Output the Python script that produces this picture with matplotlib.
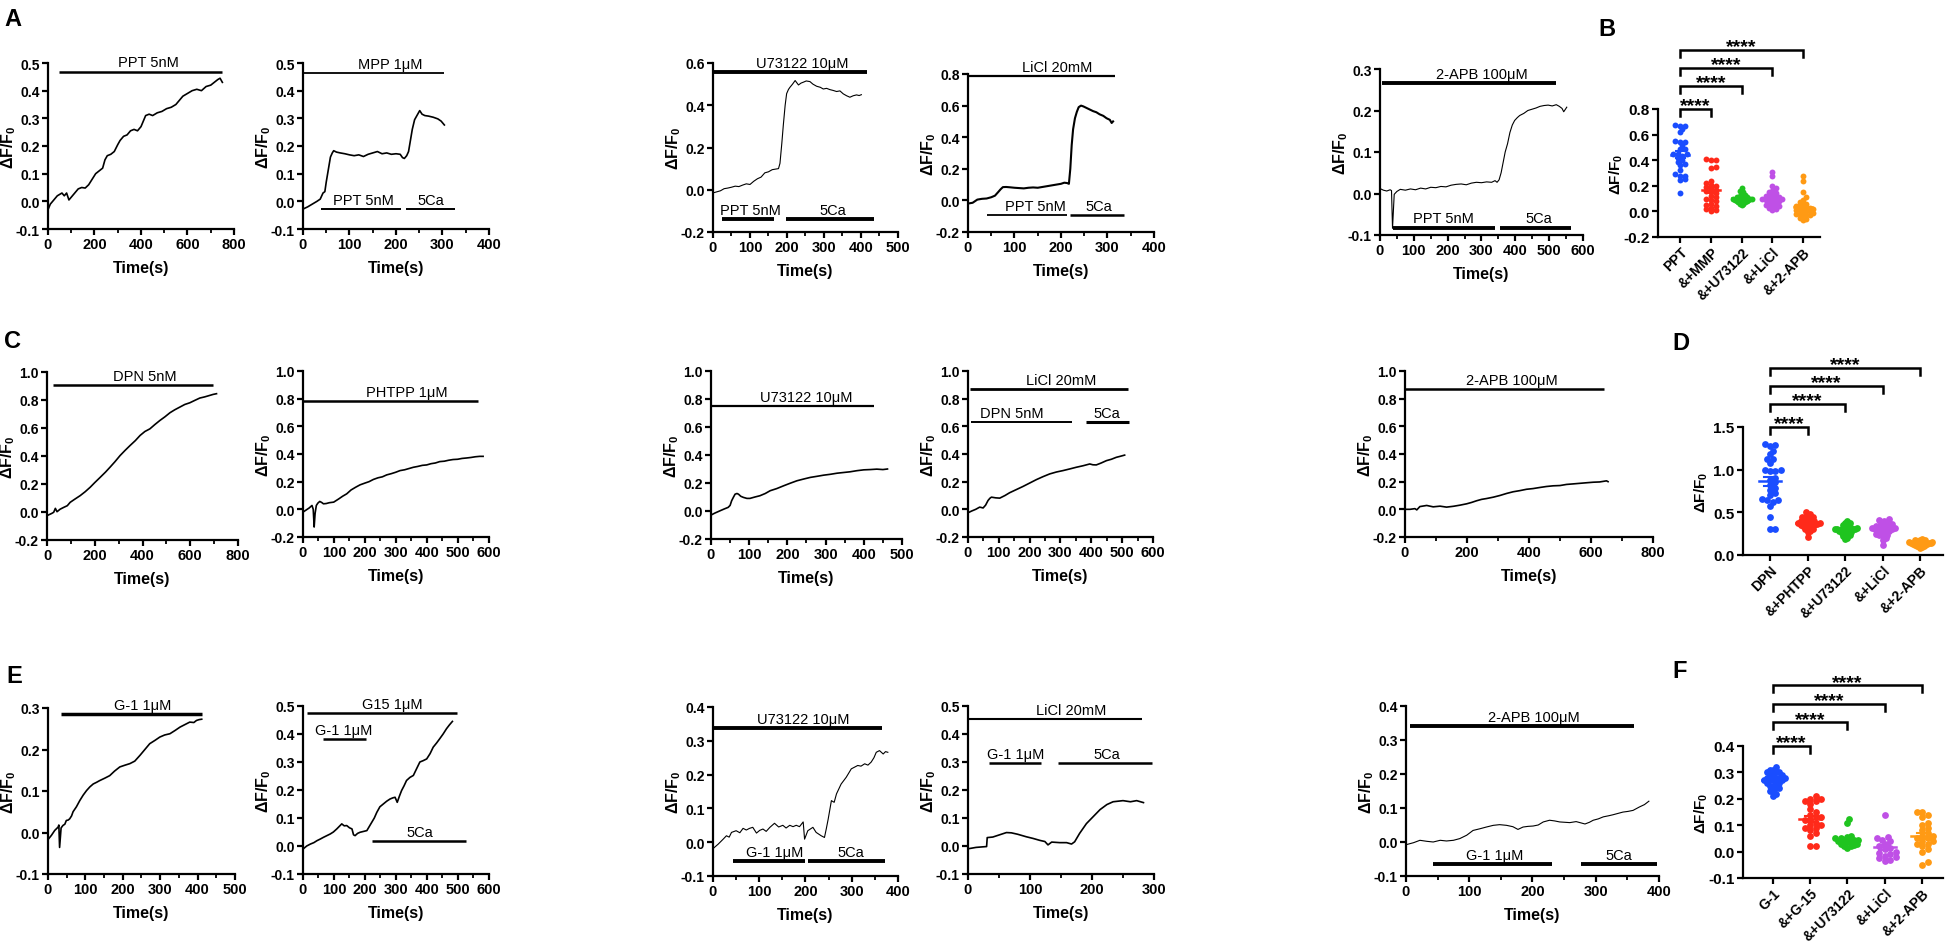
import numpy as np
import matplotlib
matplotlib.use("Agg")
import matplotlib.pyplot as plt
from matplotlib import font_manager
from matplotlib.ticker import MultipleLocator

W, H = 1949, 945

names = {f.name for f in font_manager.fontManager.ttflist}
NARROW = "Liberation Sans Narrow" if "Liberation Sans Narrow" in names else "Liberation Sans"
WIDE = "Liberation Sans"

plt.rcParams["axes.unicode_minus"] = False
plt.rcParams["mathtext.fontset"] = "custom"
plt.rcParams["mathtext.bf"] = "Liberation Sans:bold"
plt.rcParams["mathtext.rm"] = "Liberation Sans"

# ---------------- trace data (time s, dF/F0) ----------------
a1_t = [0, 10, 20, 30, 40, 50, 60, 70, 80, 90, 100, 115, 130, 145, 160, 175, 190, 205, 220, 235,
        245, 255, 270, 285, 300, 310, 325, 340, 355, 370, 385, 400, 410, 420, 435, 450, 470, 490, 510, 530,
        550, 565, 580, 600, 620, 640, 660, 680, 700, 715, 730, 740, 750]
a1_y = [-0.03, -0.01, 0.0, 0.01, 0.02, 0.025, 0.03, 0.02, 0.03, 0.005, 0.015, 0.03, 0.045, 0.05, 0.048, 0.06, 0.08, 0.10, 0.11, 0.12,
        0.15, 0.165, 0.17, 0.18, 0.205, 0.22, 0.235, 0.24, 0.255, 0.26, 0.255, 0.27, 0.29, 0.31, 0.315, 0.31, 0.32, 0.325, 0.335, 0.34,
        0.35, 0.365, 0.38, 0.39, 0.40, 0.405, 0.40, 0.415, 0.42, 0.43, 0.44, 0.445, 0.43]

a2_t = [0, 10, 20, 30, 37, 43, 47, 50, 55, 59, 63, 66, 72, 80, 90, 100, 110, 120, 130, 140,
        150, 160, 170, 180, 190, 200, 209, 214, 218, 223, 227, 231, 235, 240, 245, 251, 256, 262, 270, 280,
        290, 297, 304]
a2_y = [-0.028, -0.02, -0.01, 0.0, 0.008, 0.03, 0.035, 0.07, 0.12, 0.16, 0.175, 0.183, 0.178, 0.175, 0.172, 0.168, 0.165, 0.168, 0.162, 0.17,
        0.175, 0.18, 0.172, 0.175, 0.17, 0.172, 0.17, 0.158, 0.155, 0.165, 0.18, 0.22, 0.26, 0.295, 0.31, 0.328, 0.315, 0.31, 0.308, 0.304,
        0.298, 0.29, 0.276]

a3_t = [0, 10, 20, 30, 40, 50, 60, 70, 80, 90, 100, 110, 120, 130, 140, 150, 160, 170, 177, 181,
        186, 190, 195, 199, 204, 208, 215, 222, 231, 238, 244, 252, 262, 270, 280, 290, 298, 307, 316, 325,
        334, 343, 352, 361, 370, 379, 388, 395, 401]
a3_y = [-0.015, -0.01, -0.005, 0.005, 0.008, 0.012, 0.017, 0.015, 0.022, 0.028, 0.025, 0.04, 0.052, 0.06, 0.08, 0.085, 0.095, 0.098, 0.1, 0.125,
        0.22, 0.305, 0.40, 0.455, 0.475, 0.485, 0.5, 0.517, 0.496, 0.505, 0.509, 0.515, 0.512, 0.5, 0.49, 0.485, 0.477, 0.48, 0.474, 0.47,
        0.465, 0.468, 0.454, 0.445, 0.438, 0.445, 0.449, 0.446, 0.45]

a4_t = [0, 10, 20, 30, 40, 50, 58, 65, 70, 75, 82, 90, 100, 110, 120, 130, 140, 150, 160, 170,
        180, 190, 200, 207, 213, 217, 220, 223, 226, 230, 234, 238, 243, 248, 255, 262, 269, 276, 283, 291,
        298, 305, 309, 312]
a4_y = [-0.02, -0.015, 0.005, 0.01, 0.012, 0.02, 0.03, 0.053, 0.07, 0.084, 0.085, 0.083, 0.08, 0.078, 0.076, 0.08, 0.082, 0.08, 0.085, 0.09,
        0.095, 0.10, 0.105, 0.112, 0.11, 0.105, 0.2, 0.35, 0.45, 0.52, 0.56, 0.59, 0.6, 0.595, 0.585, 0.575, 0.565, 0.558, 0.545, 0.535,
        0.52, 0.51, 0.49, 0.5]

a5_t = [0, 10, 20, 30, 34, 37, 42, 50, 60, 75, 90, 105, 120, 135, 150, 165, 180, 195, 210, 225,
        240, 255, 270, 285, 300, 315, 330, 340, 346, 352, 358, 364, 370, 377, 384, 391, 398, 406, 413, 425,
        437, 449, 461, 473, 485, 497, 509, 521, 530, 538, 543, 548, 552]
a5_y = [0.012, 0.008, 0.006, 0.009, 0.007, -0.084, -0.002, 0.005, 0.01, 0.008, 0.011, 0.009, 0.013, 0.011, 0.015, 0.014, 0.017, 0.016, 0.02, 0.022,
        0.023, 0.021, 0.025, 0.027, 0.026, 0.028, 0.027, 0.031, 0.027, 0.033, 0.05, 0.075, 0.1, 0.12, 0.147, 0.165, 0.176, 0.183, 0.188, 0.193,
        0.2, 0.203, 0.206, 0.21, 0.212, 0.213, 0.211, 0.214, 0.21, 0.205, 0.197, 0.203, 0.208]

c1_t = [0, 10, 20, 28, 35, 42, 55, 70, 85, 97, 115, 139, 160, 181, 200, 223, 245, 264, 285, 306,
        327, 348, 370, 390, 410, 431, 452, 473, 494, 515, 535, 556, 577, 598, 620, 640, 660, 682, 696, 710]
c1_y = [-0.026, -0.018, -0.01, -0.002, 0.026, 0.002, 0.02, 0.033, 0.045, 0.069, 0.09, 0.117, 0.145, 0.177, 0.21, 0.248, 0.285, 0.32, 0.36, 0.403,
        0.44, 0.475, 0.51, 0.547, 0.575, 0.594, 0.625, 0.654, 0.68, 0.709, 0.73, 0.749, 0.768, 0.78, 0.798, 0.814, 0.822, 0.833, 0.84, 0.845]

c2_t = [0, 10, 20, 29, 33, 36, 39, 43, 48, 54, 60, 66, 75, 85, 99, 115, 128, 141, 155, 170,
        184, 200, 213, 227, 242, 256, 270, 285, 299, 313, 328, 342, 356, 370, 385, 399, 413, 427, 441, 456,
        470, 484, 499, 513, 527, 542, 556, 570, 581]
c2_y = [-0.02, -0.005, 0.01, 0.028, 0.0, -0.128, -0.03, 0.028, 0.045, 0.057, 0.05, 0.04, 0.042, 0.048, 0.052, 0.075, 0.095, 0.112, 0.14, 0.16,
        0.177, 0.19, 0.2, 0.216, 0.228, 0.235, 0.249, 0.258, 0.268, 0.28, 0.286, 0.295, 0.304, 0.31, 0.318, 0.321, 0.33, 0.335, 0.345, 0.348,
        0.355, 0.36, 0.362, 0.368, 0.371, 0.375, 0.38, 0.383, 0.383]

c3_t = [0, 10, 24, 35, 45, 50, 54, 59, 63, 68, 72, 78, 85, 94, 102, 115, 128, 142, 155, 172,
        190, 207, 225, 242, 260, 278, 295, 312, 330, 347, 364, 382, 400, 417, 434, 450, 462]
c3_y = [-0.029, -0.015, 0.002, 0.015, 0.026, 0.04, 0.073, 0.1, 0.12, 0.125, 0.12, 0.105, 0.097, 0.09, 0.09, 0.1, 0.109, 0.125, 0.145, 0.16,
        0.18, 0.198, 0.216, 0.228, 0.24, 0.248, 0.256, 0.262, 0.27, 0.275, 0.28, 0.288, 0.294, 0.296, 0.299, 0.296, 0.3]

c4_t = [0, 12, 25, 38, 49, 57, 65, 71, 76, 90, 103, 120, 135, 156, 178, 200, 222, 243, 265, 287,
        308, 330, 351, 373, 395, 405, 416, 432, 449, 465, 481, 495, 508]
c4_y = [-0.025, -0.012, 0.0, 0.016, 0.01, 0.03, 0.064, 0.08, 0.088, 0.083, 0.081, 0.1, 0.12, 0.142, 0.165, 0.19, 0.215, 0.236, 0.256, 0.27,
        0.28, 0.292, 0.304, 0.315, 0.328, 0.322, 0.321, 0.335, 0.352, 0.362, 0.376, 0.384, 0.392]

c5_t = [0, 16, 32, 38, 48, 70, 91, 113, 134, 156, 177, 199, 215, 231, 247, 263, 285, 306, 328, 349,
        370, 392, 413, 435, 456, 478, 500, 521, 543, 564, 585, 607, 628, 650, 655]
c5_y = [0.0, 0.0, 0.005, -0.004, 0.02, 0.028, 0.018, 0.023, 0.016, 0.022, 0.03, 0.04, 0.05, 0.062, 0.072, 0.078, 0.088, 0.1, 0.115, 0.127,
        0.135, 0.145, 0.15, 0.158, 0.165, 0.17, 0.172, 0.18, 0.184, 0.188, 0.192, 0.196, 0.198, 0.206, 0.2]

e1_t = [0, 9, 18, 27, 29, 31, 35, 40, 45, 49, 54, 58, 63, 67, 76, 85, 94, 103, 112, 121,
        130, 138, 152, 165, 178, 192, 205, 219, 232, 246, 259, 272, 286, 299, 312, 326, 340, 353, 366, 379,
        390, 397, 404, 411]
e1_y = [-0.017, -0.007, 0.005, 0.013, 0.018, -0.036, 0.011, 0.017, 0.02, 0.029, 0.03, 0.033, 0.04, 0.05, 0.062, 0.077, 0.09, 0.101, 0.11, 0.117,
        0.121, 0.125, 0.131, 0.137, 0.148, 0.158, 0.162, 0.166, 0.172, 0.186, 0.2, 0.214, 0.222, 0.23, 0.235, 0.238, 0.246, 0.254, 0.26, 0.266,
        0.265, 0.27, 0.272, 0.273]

e2_t = [0, 12, 24, 35, 45, 56, 66, 77, 88, 98, 109, 117, 125, 133, 141, 150, 158, 163, 168, 176,
        184, 195, 206, 214, 222, 230, 238, 248, 259, 270, 281, 290, 297, 304, 311, 318, 326, 334, 345, 356,
        366, 377, 388, 399, 410, 420, 431, 441, 452, 463, 472, 482]
e2_y = [-0.011, 0.0, 0.007, 0.012, 0.019, 0.025, 0.031, 0.037, 0.043, 0.05, 0.061, 0.07, 0.079, 0.072, 0.073, 0.065, 0.061, 0.04, 0.037, 0.045,
        0.049, 0.052, 0.055, 0.07, 0.085, 0.1, 0.12, 0.14, 0.15, 0.16, 0.168, 0.172, 0.174, 0.156, 0.178, 0.198, 0.215, 0.234, 0.245, 0.252,
        0.275, 0.3, 0.305, 0.311, 0.33, 0.353, 0.368, 0.383, 0.4, 0.419, 0.432, 0.445]

e3_t = [0, 11, 22, 29, 35, 40, 50, 58, 65, 72, 79, 86, 94, 101, 108, 115, 123, 133, 142, 151,
        158, 166, 173, 180, 187, 195, 198, 205, 216, 223, 234, 241, 245, 249, 256, 262, 267, 277, 288, 299,
        306, 313, 320, 328, 335, 342, 348, 353, 360, 368, 373, 378]
e3_y = [-0.019, -0.006, 0.009, 0.019, 0.015, 0.029, 0.034, 0.028, 0.041, 0.036, 0.041, 0.044, 0.027, 0.035, 0.039, 0.032, 0.044, 0.056, 0.045, 0.05,
        0.042, 0.05, 0.046, 0.05, 0.046, 0.06, 0.009, 0.034, 0.044, 0.029, 0.019, 0.014, 0.04, 0.068, 0.123, 0.118, 0.143, 0.172, 0.192, 0.217,
        0.222, 0.227, 0.225, 0.232, 0.228, 0.237, 0.25, 0.266, 0.271, 0.261, 0.268, 0.266]

e4_t = [0, 13, 24, 30, 31, 40, 51, 62, 70, 80, 94, 105, 116, 124, 129, 135, 148, 159, 167, 172,
        180, 191, 202, 213, 224, 234, 242, 250, 262, 272, 283]
e4_y = [-0.01, -0.005, -0.003, -0.002, 0.03, 0.032, 0.04, 0.048, 0.047, 0.042, 0.033, 0.027, 0.02, 0.016, 0.004, 0.014, 0.012, 0.012, 0.007, 0.015,
        0.045, 0.08, 0.105, 0.13, 0.148, 0.158, 0.16, 0.162, 0.158, 0.162, 0.155]

e5_t = [0, 12, 22, 33, 43, 54, 64, 75, 85, 96, 106, 117, 127, 138, 148, 159, 169, 177, 185, 193,
        201, 209, 217, 227, 235, 243, 251, 259, 269, 283, 290, 296, 304, 312, 320, 327, 335, 343, 351, 359,
        364, 369, 377, 384]
e5_y = [-0.008, -0.002, 0.005, 0.002, 0.0, 0.005, 0.003, 0.005, 0.01, 0.02, 0.034, 0.039, 0.044, 0.049, 0.051, 0.049, 0.045, 0.037, 0.044, 0.046,
        0.047, 0.05, 0.059, 0.064, 0.062, 0.059, 0.058, 0.057, 0.06, 0.053, 0.058, 0.064, 0.068, 0.074, 0.077, 0.08, 0.084, 0.088, 0.09, 0.093,
        0.098, 0.103, 0.11, 0.12]

# drug application bars: (label, start s, end s, level, label centre s)
a1_bars = [("PPT 5nM", 47, 750, 0.469, 430)]
a2_bars = [("MPP 1μM", 1, 304, 0.464, 187), ("PPT 5nM", 39, 211, -0.028, 130), ("5Ca", 221, 326, -0.028, 275)]
a3_bars = [("U73122 10μM", 4, 417, 0.559, 240), ("PPT 5nM", 24, 166, -0.137, 100), ("5Ca", 197, 435, -0.137, 325)]
a4_bars = [("LiCl 20mM", 2, 316, 0.785, 192), ("PPT 5nM", 40, 212, -0.095, 144), ("5Ca", 220, 335, -0.095, 282)]
a5_bars = [("2-APB 100μM", 5, 519, 0.266, 300), ("PPT 5nM", 39, 339, -0.082, 187), ("5Ca", 354, 565, -0.082, 469)]
c1_bars = [("DPN 5nM", 25, 696, 0.909, 410)]
c2_bars = [("PHTPP 1μM", 0, 565, 0.784, 336)]
c3_bars = [("U73122 10μM", 0, 427, 0.75, 249)]
c4_bars = [("LiCl 20mM", 8, 519, 0.868, 303), ("DPN 5nM", 11, 338, 0.628, 141), ("5Ca", 382, 521, 0.628, 451)]
c5_bars = [("2-APB 100μM", 0, 641, 0.868, 344)]
e1_bars = [("G-1 1μM", 34, 413, 0.285, 254)]
e2_bars = [("G15 1μM", 13, 498, 0.476, 289), ("G-1 1μM", 64, 204, 0.381, 131), ("5Ca", 224, 527, 0.019, 377)]
e3_bars = [("U73122 10μM", 0, 365, 0.338, 195), ("G-1 1μM", 43, 198, -0.055, 133), ("5Ca", 205, 371, -0.055, 299)]
e4_bars = [("LiCl 20mM", 0, 280, 0.452, 167), ("G-1 1μM", 34, 117, 0.297, 77), ("5Ca", 145, 296, 0.297, 224)]
e5_bars = [("2-APB 100μM", 6, 360, 0.34, 202), ("G-1 1μM", 43, 231, -0.064, 140), ("5Ca", 276, 397, -0.064, 336)]

# ---------------- scatter data ----------------
b_cats = ["PPT", "&+MMP", "&+U73122", "&+LiCl", "&+2-APB"]
b_ppt = [0.675, 0.67, 0.67, 0.645, 0.62, 0.55, 0.54, 0.54, 0.515, 0.49, 0.49, 0.45, 0.45, 0.45, 0.43, 0.42, 0.40,
         0.385, 0.37, 0.36, 0.32, 0.295, 0.28, 0.28, 0.25, 0.245, 0.14]
b_mmp = [0.41, 0.40, 0.40, 0.35, 0.34, 0.24, 0.22, 0.21, 0.20, 0.19, 0.18, 0.17, 0.16, 0.15, 0.14, 0.12, 0.11,
         0.10, 0.09, 0.08, 0.06, 0.05, 0.04, 0.03, 0.02, 0.01, 0.0]
b_u73 = [0.18, 0.16, 0.15, 0.14, 0.13, 0.12, 0.12, 0.11, 0.11, 0.11, 0.10, 0.10, 0.10, 0.10, 0.10, 0.09, 0.09,
         0.09, 0.09, 0.08, 0.08, 0.08, 0.07, 0.07, 0.06, 0.06, 0.05]
b_licl = [0.31, 0.28, 0.20, 0.18, 0.16, 0.15, 0.14, 0.13, 0.12, 0.12, 0.11, 0.11, 0.10, 0.10, 0.10, 0.09, 0.09,
          0.08, 0.08, 0.07, 0.06, 0.05, 0.05, 0.04, 0.04, 0.03, 0.02, 0.01]
b_apb = [0.28, 0.24, 0.15, 0.11, 0.09, 0.07, 0.06, 0.05, 0.04, 0.04, 0.03, 0.03, 0.02, 0.02, 0.01, 0.01, 0.0,
         0.0, -0.01, -0.01, -0.02, -0.02, -0.03, -0.03, -0.04, -0.05, -0.06, -0.07]

d_cats = ["DPN", "&+PHTPP", "&+U73122", "&+LiCl", "&+2-APB"]
d_dpn = [1.30, 1.29, 1.28, 1.22, 1.18, 1.12, 1.12, 1.08, 1.00, 1.00, 0.99, 0.98, 0.90, 0.88, 0.85, 0.82, 0.78,
         0.76, 0.73, 0.70, 0.66, 0.65, 0.64, 0.62, 0.58, 0.44, 0.31, 0.30]
d_phtpp = [0.50, 0.48, 0.46, 0.45, 0.44, 0.43, 0.42, 0.41, 0.40, 0.40, 0.39, 0.38, 0.38, 0.37, 0.37, 0.36, 0.36,
           0.35, 0.35, 0.34, 0.33, 0.32, 0.31, 0.30, 0.28, 0.27, 0.21]
d_u73 = [0.40, 0.38, 0.37, 0.35, 0.34, 0.33, 0.32, 0.32, 0.31, 0.31, 0.30, 0.30, 0.30, 0.29, 0.29, 0.28, 0.28,
         0.27, 0.26, 0.25, 0.24, 0.23, 0.22, 0.20, 0.19]
d_licl = [0.42, 0.41, 0.40, 0.38, 0.37, 0.36, 0.35, 0.34, 0.33, 0.33, 0.32, 0.32, 0.31, 0.31, 0.30, 0.30, 0.29,
          0.28, 0.27, 0.26, 0.25, 0.24, 0.23, 0.22, 0.20, 0.17, 0.12]
d_apb = [0.19, 0.18, 0.17, 0.17, 0.16, 0.16, 0.15, 0.15, 0.15, 0.14, 0.14, 0.14, 0.14, 0.13, 0.13, 0.13, 0.12,
         0.12, 0.11, 0.11, 0.10, 0.09, 0.08]

f_cats = ["G-1", "&+G-15", "&+U73122", "&+LiCl", "&+2-APB"]
f_g1 = [0.32, 0.31, 0.31, 0.30, 0.30, 0.30, 0.29, 0.29, 0.29, 0.28, 0.28, 0.28, 0.28, 0.27, 0.27, 0.27, 0.27,
        0.26, 0.26, 0.26, 0.25, 0.25, 0.24, 0.24, 0.23, 0.23, 0.22, 0.21]
f_g15 = [0.21, 0.20, 0.20, 0.19, 0.19, 0.18, 0.16, 0.15, 0.14, 0.13, 0.13, 0.12, 0.12, 0.11, 0.10, 0.10, 0.09,
         0.09, 0.08, 0.07, 0.06, 0.02, 0.02]
f_u73 = [0.125, 0.11, 0.06, 0.055, 0.05, 0.05, 0.045, 0.045, 0.04, 0.04, 0.04, 0.035, 0.03, 0.03, 0.025, 0.02,
         0.02, 0.015]
f_licl = [0.14, 0.055, 0.05, 0.045, 0.04, 0.03, 0.02, 0.015, 0.01, 0.0, -0.005, -0.01, -0.015, -0.02, -0.025,
          -0.03, -0.035]
f_apb = [0.15, 0.15, 0.14, 0.13, 0.11, 0.10, 0.09, 0.08, 0.07, 0.06, 0.06, 0.05, 0.05, 0.04, 0.04, 0.03, 0.03,
         0.02, 0.01, 0.0, -0.04, -0.05]

group_colors = ["#1a4dff", "#ff2a1a", "#1fc41f", "#bf50e6", "#ff9a14"]
bracket_levels = [1.0, 1.18, 1.32, 1.46]

fig = plt.figure(figsize=(W / 100, H / 100), dpi=100)


def box(x0, x1, y0, y1):
    return fig.add_axes([x0 / W, 1 - y1 / H, (x1 - x0) / W, (y1 - y0) / H])


def base_axes(ax):
    for s in ("top", "right"):
        ax.spines[s].set_visible(False)
    for s in ("left", "bottom"):
        ax.spines[s].set_linewidth(1.6)
    ax.tick_params(which="major", direction="out", length=4.5, width=1.6, pad=1.5)
    ax.tick_params(which="minor", direction="out", length=3, width=1.3)


def ylab(ax, size, width_px, off_px):
    ax.set_ylabel(r"ΔF/F$_\mathbf{0}$", fontsize=size, fontweight="bold", family=WIDE)
    ax.yaxis.set_label_coords(-off_px / width_px, 0.5)


def trace_panel(px, t, y, xlim, xstep, ylim, ystep, bars, font, lw, bar_lw):
    ax = box(*px)
    base_axes(ax)
    ax.plot(t, y, color="black", lw=lw, solid_joinstyle="round")
    for (label, t0, t1, yb, tx), blw in zip(bars, bar_lw):
        ax.plot([t0, t1], [yb, yb], color="black", lw=blw, solid_capstyle="butt", clip_on=False)
        ax.annotate(label, (tx, yb), xytext=(0, 1.5), textcoords="offset points", ha="center",
                    va="bottom", fontsize=10.5, family=font, annotation_clip=False)
    ax.set_xlim(xlim)
    ax.set_ylim(ylim)
    xt = np.arange(xlim[0], xlim[1] + 1e-9, xstep)
    yt = np.arange(ylim[0], ylim[1] + 1e-9, ystep)
    ax.set_xticks(xt, ["%d" % v for v in xt], fontsize=10.5, fontweight="bold", family=font)
    ax.set_yticks(yt, ["%.1f" % (round(v, 1) + 0.0) for v in yt], fontsize=10, fontweight="bold", family=font)
    ax.xaxis.set_minor_locator(MultipleLocator(xstep / 2))
    ax.set_xlabel("Time(s)", fontsize=11.5, fontweight="bold", family=font, labelpad=6)
    ylab(ax, 11.5, px[1] - px[0], 30)
    return ax


def swarm(vals, sx, sy, diam, cap):
    order = np.argsort(vals)
    placed = []
    offs = np.zeros(len(vals))
    steps = [0.0]
    for k in range(1, 40):
        steps += [k * diam * 0.4, -k * diam * 0.4]
    for i in order:
        yp = vals[i] * sy
        for o in steps:
            if all((o - qx) ** 2 + (yp - qy) ** 2 >= (0.6 * diam) ** 2 for qx, qy in placed):
                break
        placed.append((o, yp))
        offs[i] = o / sx
    m = np.abs(offs).max()
    if m > cap:
        offs *= cap / m
    return offs


def scatter_panel(px, groups, cats, xlim, ylim, ystep, dot, tsize):
    ax = box(*px)
    base_axes(ax)
    sx = (px[1] - px[0]) / (xlim[1] - xlim[0])
    sy = (px[3] - px[2]) / (ylim[1] - ylim[0])
    diam = np.sqrt(dot) / 0.72
    for k, vals in enumerate(groups):
        v = np.asarray(vals, dtype=float)
        off = swarm(v, sx, sy, diam, 0.33)
        c = group_colors[k]
        ax.scatter(k + off, v, s=dot, color=c, lw=0, zorder=3, clip_on=False)
        m = v.mean()
        se = v.std(ddof=1) / np.sqrt(len(v))
        ax.plot([k - 0.3, k + 0.3], [m, m], color=c, lw=1.8, zorder=4)
        ax.plot([k, k], [m - se, m + se], color=c, lw=1.5, zorder=4)
        for e in (m - se, m + se):
            ax.plot([k - 0.15, k + 0.15], [e, e], color=c, lw=1.5, zorder=4)
    tr = ax.get_xaxis_transform()
    drop = 7.0 / (px[3] - px[2])
    for j, h in zip(range(1, 5), bracket_levels):
        ax.plot([0, 0, j, j], [h - drop, h, h, h - drop], color="black", lw=1.8,
                transform=tr, clip_on=False, solid_joinstyle="miter")
        ax.annotate("****", (j / 2, h), xycoords=tr, xytext=(0, -1), textcoords="offset points",
                    ha="center", va="baseline", fontsize=14, fontweight="bold", family=WIDE,
                    annotation_clip=False)
    ax.set_xlim(xlim)
    ax.set_ylim(ylim)
    yt = np.arange(ylim[0], ylim[1] + 1e-9, ystep)
    ax.set_yticks(yt, ["%.1f" % (round(v, 1) + 0.0) for v in yt], fontsize=tsize, fontweight="bold", family=WIDE)
    ax.set_xticks(range(len(cats)), cats, fontsize=10, fontweight="bold", family=WIDE,
                  rotation=45, ha="right", rotation_mode="anchor")
    ax.tick_params(axis="x", pad=1)
    ylab(ax, 11, px[1] - px[0], 33)
    return ax


# ---------------- row A ----------------
trace_panel((48, 234, 64, 230), a1_t, a1_y, (0, 800), 200, (-0.1, 0.5), 0.1, a1_bars, NARROW, 1.2, [1.8])
trace_panel((303, 489, 64, 230), a2_t, a2_y, (0, 400), 100, (-0.1, 0.5), 0.1, a2_bars, NARROW, 1.2, [1.3, 1.4, 1.4])
trace_panel((713, 898, 64, 233), a3_t, a3_y, (0, 500), 100, (-0.2, 0.6), 0.2, a3_bars, NARROW, 0.8, [2.8, 2.8, 2.8])
trace_panel((968, 1154, 75, 233), a4_t, a4_y, (0, 400), 100, (-0.2, 0.8), 0.2, a4_bars, NARROW, 1.5, [1.6, 1.3, 1.8])
trace_panel((1380, 1583, 70, 236), a5_t, a5_y, (0, 600), 100, (-0.1, 0.3), 0.1, a5_bars, NARROW, 0.8, [2.8, 2.8, 2.8])
scatter_panel((1658, 1820, 110, 238), [b_ppt, b_mmp, b_u73, b_licl, b_apb], b_cats,
              (-0.72, 4.55), (-0.2, 0.8), 0.2, 18, 11)

# ---------------- row C ----------------
trace_panel((47, 238, 373, 541), c1_t, c1_y, (0, 800), 200, (-0.2, 1.0), 0.2, c1_bars, NARROW, 1.2, [1.8])
trace_panel((303, 489, 372, 538), c2_t, c2_y, (0, 600), 100, (-0.2, 1.0), 0.2, c2_bars, NARROW, 1.2, [1.8])
trace_panel((711, 902, 372, 540), c3_t, c3_y, (0, 500), 100, (-0.2, 1.0), 0.2, c3_bars, NARROW, 1.2, [1.6])
trace_panel((968, 1153, 372, 538), c4_t, c4_y, (0, 600), 100, (-0.2, 1.0), 0.2, c4_bars, NARROW, 1.2, [2.0, 1.4, 2.2])
trace_panel((1405, 1653, 372, 538), c5_t, c5_y, (0, 800), 200, (-0.2, 1.0), 0.2, c5_bars, WIDE, 1.2, [1.8])
scatter_panel((1743, 1943, 428, 556), [d_dpn, d_phtpp, d_u73, d_licl, d_apb], d_cats,
              (-0.72, 4.61), (0.0, 1.5), 0.5, 24, 11)

# ---------------- row E ----------------
trace_panel((48, 235, 709, 875), e1_t, e1_y, (0, 500), 100, (-0.1, 0.3), 0.1, e1_bars, NARROW, 1.2, [2.5])
trace_panel((303, 489, 707, 875), e2_t, e2_y, (0, 600), 100, (-0.1, 0.5), 0.1, e2_bars, NARROW, 1.2, [1.8, 1.8, 1.8])
trace_panel((713, 898, 708, 877), e3_t, e3_y, (0, 400), 100, (-0.1, 0.4), 0.1, e3_bars, NARROW, 0.8, [2.8, 2.8, 2.8])
trace_panel((968, 1154, 707, 875), e4_t, e4_y, (0, 300), 100, (-0.1, 0.5), 0.1, e4_bars, NARROW, 1.2, [1.5, 1.8, 1.8])
trace_panel((1406, 1659, 707, 877), e5_t, e5_y, (0, 400), 100, (-0.1, 0.4), 0.1, e5_bars, WIDE, 0.8, [2.8, 2.8, 2.8])
scatter_panel((1743, 1943, 747, 879), [f_g1, f_g15, f_u73, f_licl, f_apb], f_cats,
              (-0.8, 4.56), (-0.1, 0.4), 0.1, 24, 11)

# panel letters
for letter, x, y in [("A", 4, 8), ("B", 1598, 18), ("C", 4, 330), ("D", 1672, 332), ("E", 6, 665), ("F", 1672, 660)]:
    fig.text(x / W, 1 - y / H, letter, fontsize=17, fontweight="bold", family=WIDE, ha="left", va="top")

fig.savefig("out.png", dpi=100)
